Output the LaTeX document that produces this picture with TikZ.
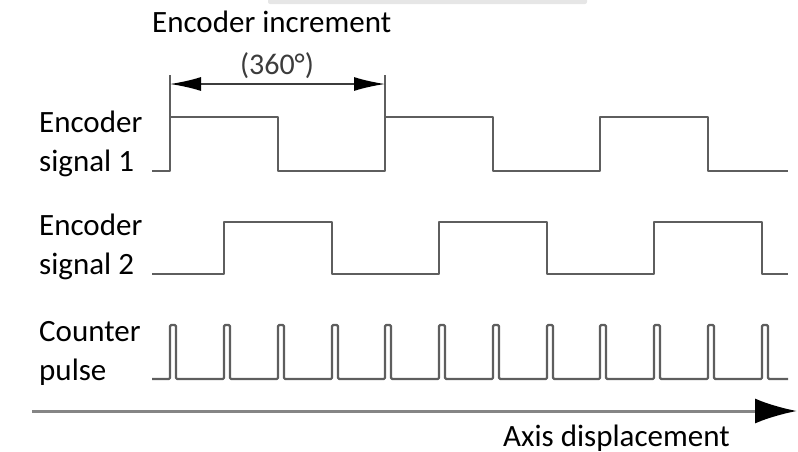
\documentclass[tikz,border=0pt]{standalone}
\usepackage{fontspec}
\setmainfont{Carlito}
\usetikzlibrary{arrows.meta}
\definecolor{wavegray}{HTML}{5E5E5E}
\definecolor{axisgray}{HTML}{858585}
\definecolor{bargray}{HTML}{E6E6E6}
\definecolor{dimgray}{HTML}{3C3C3C}
\begin{document}
\begin{tikzpicture}[x=1pt,y=-1pt,
  lbl/.style={font=\fontsize{31}{39}\selectfont, align=left, anchor=base west, inner sep=0pt},
  wave/.style={draw=wavegray, line width=2.2pt, line join=round},
  dimline/.style={draw=dimgray, line width=1.6pt, {Latex[length=31pt,width=14pt,color=black]}-{Latex[length=31pt,width=14pt,color=black]}},
  tick/.style={draw=wavegray, line width=1.6pt},
  axisline/.style={draw=axisgray, line width=3pt, -{Latex[length=42pt,width=25pt,color=black]}}]
\useasboundingbox (0,0) rectangle (798,451);
% top light bar
\fill[bargray, rounded corners=2pt] (268,-3) rectangle (587,4);
% titles
\node[lbl] (title) at (152,32) {Encoder increment};
\node[font=\fontsize{30}{34}\selectfont, text=dimgray, inner sep=0pt] (deg) at (277,66) {(360°)};
% dimension
\coordinate (dl) at (170,84);
\coordinate (dr) at (385,84);
\draw[tick] (170,75) -- (170,118);
\draw[tick] (385,75) -- (385,118);
\draw[dimline] (dl) -- (dr);
% labels (base anchor = last line)
\node[lbl] (s1) at (39,171) {Encoder\\signal 1};
\node[lbl] (s2) at (39,274) {Encoder\\signal 2};
\node[lbl] (cp) at (39,380) {Counter\\pulse};
\node[lbl] (ax) at (503,446) {Axis displacement};
% signal 1
\draw[wave] (152,171) -- (170,171) -- (170,117) -- (278,117) -- (278,171) -- (385,171) -- (385,117)
  -- (493,117) -- (493,171) -- (600,171) -- (600,117) -- (708,117) -- (708,171) -- (788,171);
% signal 2
\draw[wave] (152,274) -- (224,274) -- (224,222) -- (332,222) -- (332,274) -- (439,274) -- (439,222)
  -- (547,222) -- (547,274) -- (654,274) -- (654,222) -- (762,222) -- (762,274) -- (788,274);
% counter pulse
\draw[wave, rounded corners=1.2pt] (152,379)
  \foreach \x in {170,224,278,332,385,439,493,547,600,654,708,762} {
    -- (\x,379) -- (\x,325) -- ({\x+6},325) -- ({\x+6},379)
  } -- (788,379);
% axis
\coordinate (a0) at (32,411);
\coordinate (a1) at (797,411);
\draw[axisline] (a0) -- (a1);
\end{tikzpicture}
\end{document}
